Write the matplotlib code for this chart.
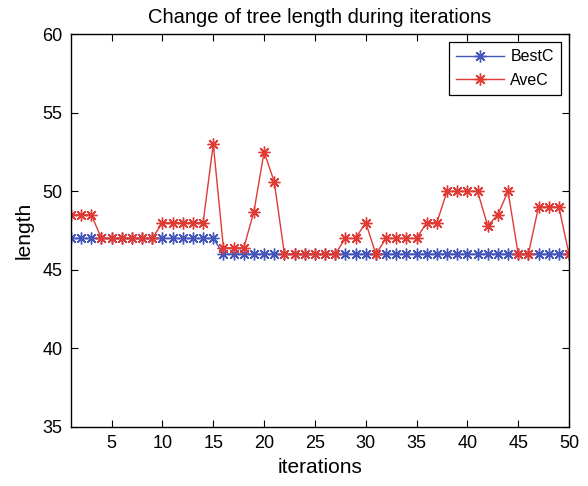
import matplotlib.pyplot as plt

iteraciones = list(range(1, 51))
best_c = [47] * 15 + [46] * 35
ave_c = [48.5, 48.5, 48.5, 47, 47, 47, 47, 47, 47, 48,
         48, 48, 48, 48, 53, 46.4, 46.4, 46.4, 48.7, 52.5,
         50.6, 46, 46, 46, 46, 46, 46, 47, 47, 48,
         46, 47, 47, 47, 47, 48, 48, 50, 50, 50,
         50, 47.8, 48.5, 50, 46, 46, 49, 49, 49, 46]

plt.rcParams['font.family'] = ['Liberation Sans', 'DejaVu Sans']

fig = plt.figure(figsize=(5.88, 4.86), dpi=100)
ax = fig.add_axes([0.1207, 0.1214, 0.847, 0.8086])

asterisco = (8, 2, 0)
ax.plot(iteraciones, best_c, color='#4455bb', lw=1.0, marker=asterisco,
        markersize=8.5, markeredgewidth=1.0, label='BestC')
ax.plot(iteraciones, ave_c, color='#e03a35', lw=1.0, marker=asterisco,
        markersize=8.5, markeredgewidth=1.0, label='AveC')

ax.set_xlim(1, 50)
ax.set_ylim(35, 60)
ax.set_xticks([5, 10, 15, 20, 25, 30, 35, 40, 45, 50])
ax.set_yticks([35, 40, 45, 50, 55, 60])
ax.tick_params(direction='in', top=True, right=True, labelsize=13, length=5,
               pad=6)
for s in ax.spines.values():
    s.set_linewidth(1.0)

ax.set_title('Change of tree length during iterations', fontsize=14.5, pad=8)
ax.set_xlabel('iterations', fontsize=15, labelpad=4)
ax.set_ylabel('length', fontsize=15, labelpad=6)

leg = ax.legend(loc='upper right', fontsize=11.5, fancybox=False, framealpha=1,
                edgecolor='black', handlelength=3.0, handletextpad=0.4,
                borderaxespad=0.5, labelspacing=0.55, borderpad=0.45)
leg.get_frame().set_linewidth(0.9)

plt.savefig('out.png', dpi=100)
plt.close()
